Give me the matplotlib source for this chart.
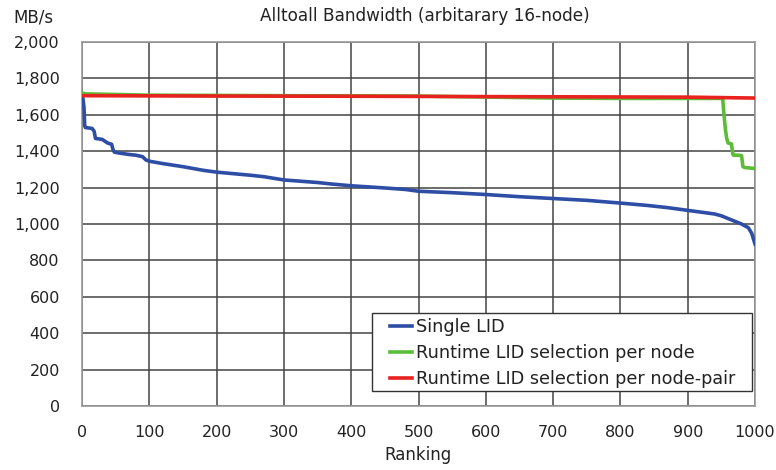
import matplotlib
matplotlib.use("Agg")
import matplotlib.pyplot as plt
from matplotlib.patches import Rectangle
from matplotlib.ticker import FuncFormatter, MultipleLocator

# Data (ranking, MB/s)
single_x = [0, 1, 3, 4, 5, 15, 18, 20, 30, 34, 38, 44, 46, 48, 55, 70, 80, 90, 95, 100, 120, 150, 180, 200, 250, 270,
            300, 350, 370, 400, 450, 480, 500, 550, 600, 650, 700, 750, 800, 840, 870, 900, 920, 940, 950, 960, 970,
            980, 990, 995, 1000]
single_y = [1710, 1700, 1640, 1540, 1530, 1525, 1510, 1470, 1465, 1455, 1445, 1438, 1410, 1395, 1390, 1382, 1378,
            1370, 1352, 1345, 1332, 1315, 1295, 1285, 1268, 1260, 1242, 1228, 1220, 1210, 1198, 1190, 1180, 1172,
            1162, 1150, 1140, 1130, 1115, 1102, 1090, 1075, 1065, 1055, 1045, 1030, 1015, 1000, 980, 950, 890]

node_x = [0, 5, 100, 300, 500, 700, 800, 900, 952, 953, 956, 958, 960, 965, 967, 968, 975, 980, 982, 985, 1000]
node_y = [1720, 1715, 1708, 1705, 1703, 1692, 1690, 1690, 1690, 1640, 1520, 1470, 1445, 1440, 1385, 1378, 1378,
          1376, 1315, 1310, 1305]

pair_x = [0, 200, 400, 600, 800, 900, 1000]
pair_y = [1705, 1703, 1702, 1700, 1698, 1697, 1692]

series_labels = ["Single LID", "Runtime LID selection per node", "Runtime LID selection per node-pair"]
title = "Alltoall Bandwidth (arbitarary 16-node)"

fig = plt.figure(figsize=(7.76, 4.70), dpi=100)
ax = fig.add_axes([82 / 776, 1 - 406 / 470, (755 - 82) / 776, (406 - 42) / 470])

ax.plot(single_x, single_y, color="#2e4ea5", lw=2.6, label=series_labels[0], zorder=3)
ax.plot(node_x, node_y, color="#5cbc38", lw=2.6, label=series_labels[1], zorder=4)
ax.plot(pair_x, pair_y, color="#e8221f", lw=2.6, label=series_labels[2], zorder=5)

ax.set_xlim(0, 1000)
ax.set_ylim(0, 2000)
ax.xaxis.set_major_locator(MultipleLocator(100))
ax.yaxis.set_major_locator(MultipleLocator(200))
ax.yaxis.set_major_formatter(FuncFormatter(lambda v, p: f"{int(v):,}"))
ax.grid(True, color="#444444", lw=1.1)
ax.set_axisbelow(True)
for s in ax.spines.values():
    s.set_color("#999999")
    s.set_linewidth(1.2)
ax.tick_params(axis="both", labelsize=11.5, colors="#222222", length=0)
ax.tick_params(axis="x", pad=14)
ax.tick_params(axis="y", pad=16)

ax.set_xlabel("Ranking", fontsize=12, labelpad=4, color="#222222")
fig.text(425 / 776, 1 - 16 / 470, title, ha="center", va="center", fontsize=12.2, color="#222222")
fig.text(13 / 776, 1 - 17 / 470, "MB/s", ha="left", va="center", fontsize=12, color="#222222")

# legend box
x0, x1 = (372 - 82) / 673, (752 - 82) / 673
y0, y1 = (406 - 391) / 364, (406 - 313) / 364
ax.add_patch(Rectangle((x0, y0), x1 - x0, y1 - y0, transform=ax.transAxes, facecolor="white",
                       edgecolor="#333333", lw=1.0, zorder=10, clip_on=False))
leg = ax.legend(loc="upper left", bbox_to_anchor=((390 - 82) / 673, (406 - 318) / 364), borderaxespad=0,
                fontsize=12.7, frameon=False, borderpad=0,
                handlelength=1.25, handletextpad=0.25, labelspacing=0.45, handleheight=0.7)
leg.set_zorder(11)
for t in leg.get_texts():
    t.set_color("#222222")

fig.savefig("out.png", dpi=100)
